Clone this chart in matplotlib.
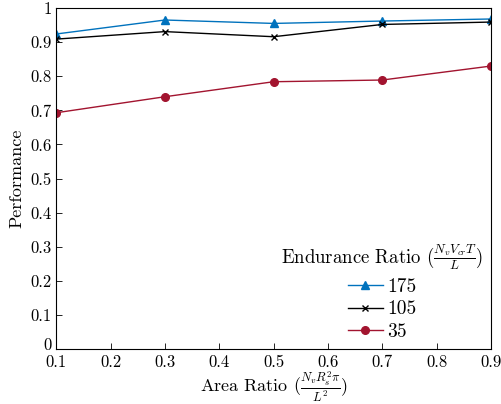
import matplotlib
matplotlib.use("Agg")
import matplotlib.pyplot as plt
import matplotlib.transforms as mtransforms

plt.rcParams['font.family'] = 'serif'
plt.rcParams['font.serif'] = ['cmr10']
plt.rcParams['mathtext.fontset'] = 'cm'
plt.rcParams['axes.formatter.use_mathtext'] = True

area_ratio = [0.1, 0.3, 0.5, 0.7, 0.9]
perf_175 = [0.924, 0.965, 0.955, 0.962, 0.968]
perf_105 = [0.909, 0.931, 0.916, 0.952, 0.959]
perf_35 = [0.693, 0.740, 0.784, 0.789, 0.830]

fig, ax = plt.subplots(figsize=(5.02, 4.04), dpi=100)
fig.subplots_adjust(left=0.112, right=0.978, top=0.98, bottom=0.136)

ax.plot(area_ratio, perf_175, color='#0072BD', marker='^', markersize=5.5, lw=1.0, label='175')
ax.plot(area_ratio, perf_105, color='black', marker='x', markersize=5, lw=1.0, label='105')
ax.plot(area_ratio, perf_35, color='#A2142F', marker='o', markersize=5.5, lw=1.0, label='35')

ax.set_xlim(0.1, 0.9)
ax.set_ylim(0, 1)
ax.set_xticks([0.1, 0.2, 0.3, 0.4, 0.5, 0.6, 0.7, 0.8, 0.9])
ax.set_yticks([0, 0.1, 0.2, 0.3, 0.4, 0.5, 0.6, 0.7, 0.8, 0.9, 1])
ax.set_yticklabels(['0', '0.1', '0.2', '0.3', '0.4', '0.5', '0.6', '0.7', '0.8', '0.9', '1'])
ax.set_xticklabels(['0.1', '0.2', '0.3', '0.4', '0.5', '0.6', '0.7', '0.8', '0.9'])
ax.tick_params(direction='in', labelsize=12, length=4, width=0.6)
ax.tick_params(axis='x', pad=4)
for s in ax.spines.values():
    s.set_linewidth(0.8)

# nudge the "0" label up a little so it clears the x tick labels
zero_lbl = ax.get_yticklabels()[0]
zero_lbl.set_transform(zero_lbl.get_transform() +
                       mtransforms.ScaledTranslation(0, 4 / 72, fig.dpi_scale_trans))

ax.set_xlabel(r'Area Ratio ($\frac{N_v R_s^2 \pi}{L^2}$)', fontsize=13, labelpad=0)
ax.set_ylabel('Performance', fontsize=13, labelpad=4)

leg = ax.legend(loc='lower right', frameon=False, fontsize=14,
                title=r'Endurance Ratio ($\frac{N_v V_{cr} T}{L}$)',
                title_fontsize=13.5, handlelength=1.8, handletextpad=0.2,
                labelspacing=0.25, borderaxespad=0.0)

plt.savefig('out.png')
